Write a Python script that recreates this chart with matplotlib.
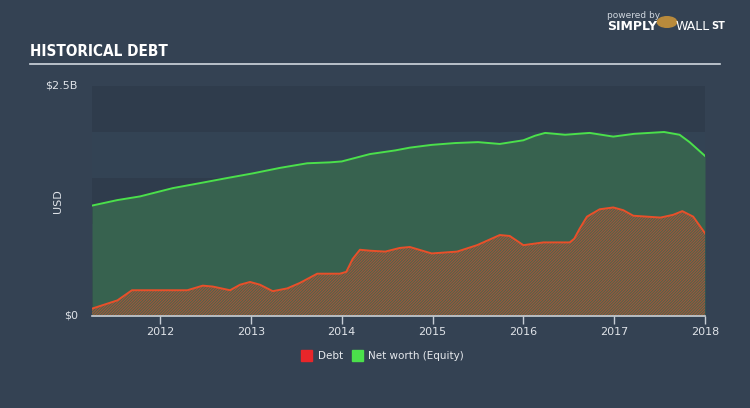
import numpy as np
import matplotlib.pyplot as plt
from matplotlib.patches import Rectangle

# valores (años decimales, miles de millones USD)
anios_deuda = [2011.25, 2011.53, 2011.69, 2011.78, 2012.30, 2012.47, 2012.58, 2012.77,
               2012.88, 2012.99, 2013.10, 2013.24, 2013.40, 2013.54, 2013.73, 2013.98,
               2014.05, 2014.12, 2014.20, 2014.31, 2014.48, 2014.64, 2014.75, 2014.99,
               2015.27, 2015.49, 2015.74, 2015.85, 2016.00, 2016.22, 2016.51, 2016.56,
               2016.62, 2016.70, 2016.84, 2016.99, 2017.10, 2017.21, 2017.51, 2017.65,
               2017.75, 2017.87, 2018.00]
deuda = [0.08, 0.17, 0.28, 0.28, 0.28, 0.33, 0.32, 0.28, 0.34, 0.37, 0.34, 0.27, 0.30,
         0.36, 0.46, 0.46, 0.48, 0.62, 0.72, 0.71, 0.70, 0.74, 0.75, 0.68, 0.70, 0.77,
         0.88, 0.87, 0.77, 0.80, 0.80, 0.84, 0.95, 1.08, 1.16, 1.18, 1.15, 1.09, 1.07,
         1.10, 1.14, 1.08, 0.90]

anios_patrimonio = [2011.25, 2011.53, 2011.78, 2012.14, 2012.47, 2012.74, 2013.02, 2013.32,
                    2013.62, 2013.87, 2014.00, 2014.31, 2014.59, 2014.75, 2014.99, 2015.25,
                    2015.50, 2015.74, 2016.00, 2016.13, 2016.24, 2016.46, 2016.73, 2016.99,
                    2017.22, 2017.55, 2017.72, 2017.83, 2018.00]
patrimonio = [1.20, 1.26, 1.30, 1.39, 1.45, 1.50, 1.55, 1.61, 1.66, 1.67, 1.68, 1.76, 1.80,
              1.83, 1.86, 1.88, 1.89, 1.87, 1.91, 1.96, 1.99, 1.97, 1.99, 1.95, 1.98, 2.00,
              1.97, 1.89, 1.74]

anios_ticks = [2012, 2013, 2014, 2015, 2016, 2017, 2018]

FONDO = '#344253'
VERDE = '#4be04b'
ROJO = '#e8502a'

fig = plt.figure(figsize=(7.5, 4.08), dpi=100, facecolor=FONDO)
ax = fig.add_axes([92 / 750, 1 - 316 / 408, 613 / 750, 230 / 408])
ax.set_facecolor(FONDO)

#? bandas horizontales de fondo
for i, y0 in enumerate(np.arange(0, 2.5, 0.5)):
    col = '#2f3c4c' if i % 2 == 0 else '#334354'
    ax.axhspan(y0, y0 + 0.5, color=col, lw=0, zorder=0)

ax.fill_between(anios_patrimonio, 0, patrimonio, color='#37624f', lw=0, zorder=1)
ax.plot(anios_patrimonio, patrimonio, color=VERDE, lw=1.4, zorder=4,
        solid_joinstyle='round')

plt.rcParams['hatch.linewidth'] = 0.8
ax.fill_between(anios_deuda, 0, deuda, facecolor='#3d6a4f', edgecolor='#a4523a',
                hatch='/' * 12, lw=0, zorder=2)
ax.plot(anios_deuda, deuda, color=ROJO, lw=1.4, zorder=4, solid_joinstyle='round')

ax.set_xlim(2011.25, 2018.0)
ax.set_ylim(0, 2.5)
ax.set_yticks([])
ax.set_xticks(anios_ticks)
ax.set_xticklabels([str(a) for a in anios_ticks], color='#dfe3e8', fontsize=8)
ax.tick_params(axis='x', length=6, width=1, color='#c8ced6', pad=2)
for s in ['top', 'right', 'left']:
    ax.spines[s].set_visible(False)
ax.spines['bottom'].set_color('#c8ced6')
ax.spines['bottom'].set_linewidth(1.2)

fig.text(78 / 750, 1 - 86 / 408, '$2.5B', color='#dfe3e8', fontsize=8, ha='right', va='center')
fig.text(78 / 750, 1 - 316 / 408, '$0', color='#dfe3e8', fontsize=8, ha='right', va='center')
fig.text(58 / 750, 1 - 201 / 408, 'USD', color='#dfe3e8', fontsize=8, ha='center', va='center',
         rotation=90)

#? título y línea
fig.text(30 / 750, 1 - 52 / 408, 'HISTORICAL DEBT', color='white', fontsize=11,
         fontweight='bold', family='DejaVu Sans', fontstretch='condensed',
         ha='left', va='center')
fig.add_artist(plt.Line2D([30 / 750, 720 / 750], [1 - 64 / 408, 1 - 64 / 408],
                          color='#cfd6de', lw=1.2))

#? logo
fig.text(607 / 750, 1 - 15 / 408, 'powered by', color='#cfd6de', fontsize=6.5, ha='left', va='center')
fig.text(607 / 750, 1 - 27 / 408, 'SIMPLY', color='white', fontsize=9, fontweight='bold',
         ha='left', va='center')
fig.text(676 / 750, 1 - 27 / 408, 'WALL', color='white', fontsize=9, ha='left', va='center')
fig.text(711 / 750, 1 - 26 / 408, 'ST', color='white', fontsize=7, fontweight='bold',
         ha='left', va='center')
fig.add_artist(plt.Circle((667 / 750, 1 - 22 / 408), 0.013, color='#b88a3c',
                          transform=fig.transFigure))

#? leyenda
fig.add_artist(Rectangle((301 / 750, 1 - 361 / 408), 11 / 750, 11 / 408, color='#e8262a',
                         transform=fig.transFigure))
fig.text(318 / 750, 1 - 356 / 408, 'Debt', color='#e6e9ed', fontsize=7.5, ha='left', va='center')
fig.add_artist(Rectangle((352 / 750, 1 - 361 / 408), 11 / 750, 11 / 408, color='#4be04b',
                         transform=fig.transFigure))
fig.text(368 / 750, 1 - 356 / 408, 'Net worth (Equity)', color='#e6e9ed', fontsize=7.5,
         ha='left', va='center')

fig.savefig('out.png', dpi=100, facecolor=FONDO)
